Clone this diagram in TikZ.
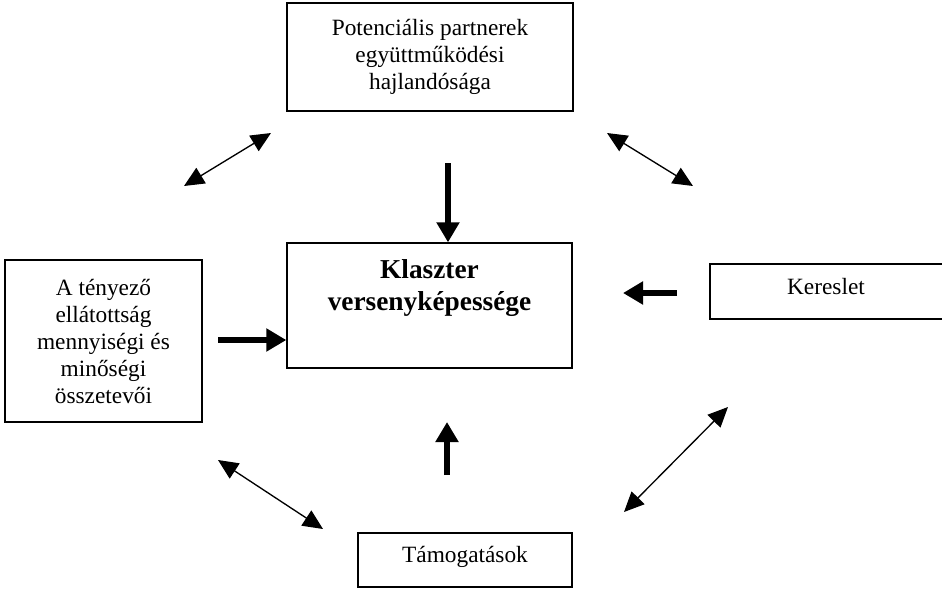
\documentclass[tikz,border=0pt]{standalone}
\usepackage{fontspec}
\setmainfont{Liberation Serif}
\usetikzlibrary{arrows.meta}
\begin{document}
\begin{tikzpicture}[x=0.75pt,y=-0.75pt,
  box/.style={draw,line width=1pt,rectangle,inner sep=0pt,align=center,
    font=\fontsize{17.5pt}{20.25pt}\selectfont},
  bigarrow/.style={line width=4.5pt,-{Triangle[length=15pt,width=16.5pt]}},
  twoway/.style={line width=1pt,{Triangle[length=15pt,width=13.5pt]}-{Triangle[length=15pt,width=13.5pt]}}]
\useasboundingbox (0,0) rectangle (942,590);
\clip (0,0) rectangle (942,590);
% boxes
\node[box,minimum width=286*0.75pt,minimum height=108*0.75pt] (top) at (430,57)
  {Potenciális partnerek\\együttműködési\\hajlandósága};
\node[box,minimum width=285*0.75pt,minimum height=125*0.75pt] (center) at (429.5,305.5) {};
\node[align=center,font=\fontsize{20.5pt}{24pt}\selectfont\bfseries,anchor=north] (ctext) at (429.5,255)
  {Klaszter\\versenyképessége};
\node[box,minimum width=197*0.75pt,minimum height=162*0.75pt] (left) at (103.5,341)
  {A tényező\\ellátottság\\mennyiségi és\\minőségi\\összetevői};
\node[box,minimum width=240*0.75pt,minimum height=55*0.75pt,text width=232*0.75pt,
  text height=12pt,text depth=7.2pt] (right) at (830,291.5)
  {\hspace*{-6pt}Kereslet};
\node[box,minimum width=214*0.75pt,minimum height=54*0.75pt,
  text height=12pt,text depth=8pt] (bottom) at (465,560)
  {Támogatások};
% thick arrows
\coordinate (tA) at (448,163);
\coordinate (lA) at (218,340);
\coordinate (rA) at (677,293);
\coordinate (bA) at (447,475);
\draw[bigarrow] (tA) -- (center.north -| tA);
\draw[bigarrow] (lA) -- (center.west |- lA);
\draw[bigarrow] (rA) -- (623,293) coordinate (rB);
\draw[bigarrow] (bA) -- (447,422) coordinate (bB);
% two-way arrows
\coordinate (d1a) at (184,186);
\coordinate (d1b) at (271,133);
\coordinate (d2a) at (607,133);
\coordinate (d2b) at (693,186);
\coordinate (d3a) at (218,460);
\coordinate (d3b) at (323,529);
\coordinate (d4a) at (728,407);
\coordinate (d4b) at (624,512);
\draw[twoway] (d1a) -- (d1b);
\draw[twoway] (d2a) -- (d2b);
\draw[twoway] (d3a) -- (d3b);
\draw[twoway] (d4a) -- (d4b);
\end{tikzpicture}
\end{document}
